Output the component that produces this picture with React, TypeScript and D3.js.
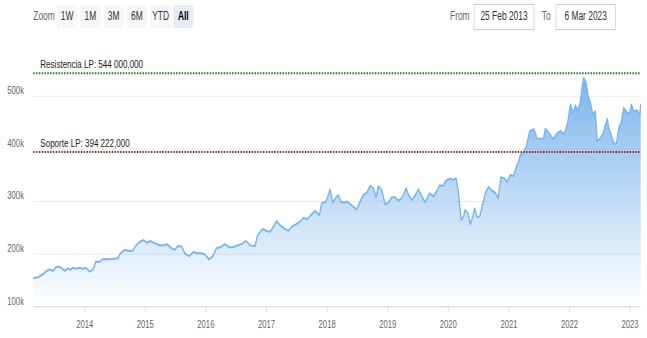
import React from "react";
import * as d3 from "d3";

// ---- data ----
const dates: string[] = [
  "2013-02-25","2013-03-25","2013-04-24","2013-05-15","2013-06-04","2013-06-23","2013-07-14","2013-08-07","2013-09-02","2013-09-22",
  "2013-10-06","2013-10-22","2013-11-11","2013-12-01","2013-12-21","2014-01-07","2014-01-31","2014-02-20","2014-03-08","2014-04-01",
  "2014-04-21","2014-05-21","2014-06-20","2014-07-20","2014-08-04","2014-08-30","2014-09-29","2014-10-19","2014-11-08","2014-11-28",
  "2014-12-22","2015-01-11","2015-02-01","2015-02-27","2015-03-29","2015-04-28","2015-05-12","2015-06-08","2015-06-28","2015-07-14",
  "2015-08-07","2015-08-27","2015-09-22","2015-10-20","2015-11-05","2015-11-25","2015-12-25","2016-01-20","2016-02-10","2016-03-05",
  "2016-04-04","2016-04-24","2016-05-20","2016-06-13","2016-07-14","2016-08-04","2016-08-30","2016-09-23","2016-10-23","2016-11-08",
  "2016-12-08","2017-01-02","2017-01-22","2017-02-11","2017-03-03","2017-03-23","2017-04-16","2017-05-12","2017-06-02","2017-06-28",
  "2017-07-22","2017-08-11","2017-09-04","2017-09-24","2017-10-20","2017-11-15","2017-11-29","2017-12-25","2018-01-08","2018-01-19",
  "2018-02-04","2018-02-24","2018-03-10","2018-03-24","2018-04-13","2018-05-03","2018-05-23","2018-06-08","2018-06-28","2018-07-18",
  "2018-08-07","2018-08-28","2018-09-17","2018-10-07","2018-10-23","2018-11-06","2018-11-26","2018-12-16","2019-01-05","2019-01-26",
  "2019-02-15","2019-03-07","2019-03-28","2019-04-23","2019-05-07","2019-05-27","2019-06-16","2019-07-06","2019-07-26","2019-08-15",
  "2019-09-10","2019-10-04","2019-10-24","2019-11-09","2019-11-29","2019-12-19","2020-01-12","2020-01-29","2020-02-18","2020-03-03",
  "2020-03-19","2020-04-02","2020-04-12","2020-04-26","2020-05-13","2020-05-29","2020-06-08","2020-06-22","2020-07-08","2020-07-23",
  "2020-08-11","2020-08-31","2020-09-21","2020-10-11","2020-10-27","2020-11-14","2020-12-04","2020-12-20","2021-01-09","2021-01-29",
  "2021-02-14","2021-02-28","2021-03-10","2021-03-30","2021-04-16","2021-05-06","2021-05-30","2021-06-19","2021-07-09","2021-07-29",
  "2021-08-08","2021-08-28","2021-09-24","2021-10-18","2021-11-07","2021-11-27","2021-12-07","2021-12-21","2022-01-07","2022-01-23",
  "2022-02-06","2022-02-20","2022-03-08","2022-03-18","2022-03-28","2022-04-11","2022-04-23","2022-05-07","2022-05-21","2022-06-05",
  "2022-06-17","2022-07-06","2022-07-23","2022-08-06","2022-08-16","2022-08-26","2022-09-09","2022-09-25","2022-10-11","2022-10-25",
  "2022-11-08","2022-11-24","2022-12-14","2022-12-30","2023-01-09","2023-01-23","2023-02-13","2023-02-27","2023-03-06",
];

const values: number[] = [
  154000,156000,161600,168000,171000,168000,176000,175000,168000,173000,
  170000,174000,172000,174000,172000,174000,166500,171000,185500,185500,
  190700,190000,190700,192000,201500,208000,206000,207000,217000,223600,
  226800,221700,225000,220500,217000,217000,219000,211000,208000,215000,
  215000,201500,196000,204500,201500,202000,199600,190000,195000,211000,
  214000,219000,213000,213000,217000,219000,225000,217000,215000,236000,
  247700,244000,242600,252000,263000,255000,249000,244500,252000,256700,
  261600,269000,266000,274000,282500,274000,296600,299600,312000,323000,
  297700,308000,312000,299600,297700,300000,294700,290000,285000,299600,
  312000,316700,330000,325000,308000,329500,322000,294700,297700,308000,
  308000,301500,307000,325000,312000,303000,312000,323000,309000,298500,
  315600,310000,320000,331000,329500,339500,344000,341000,344000,315600,
  264800,271000,284000,279000,257000,272600,287000,271000,271000,290000,
  315600,328000,320500,316700,306000,346000,344000,337600,350400,348500,
  366000,375700,388400,393000,405700,433000,437700,420500,418600,420500,
  438000,431400,418600,430000,434300,428000,434300,450000,484600,468600,
  482500,471700,490500,519000,535000,525500,500000,487600,465300,471700,
  414400,420500,430000,446000,456900,439700,427000,409700,411000,439700,
  449500,478000,468600,468600,484600,471700,473600,462000,484600,
];

const yTicks: number[] = [100000, 200000, 300000, 400000, 500000];
const xTickYears: number[] = [2014, 2015, 2016, 2017, 2018, 2019, 2020, 2021, 2022, 2023];
const rangeButtons: string[] = ["1W", "1M", "3M", "6M", "YTD", "All"];
const selectedButton = "All";
const plotLineValues: number[] = [544000, 394222];
const plotLineLabels: string[] = ["Resistencia LP: 544 000,000", "Soporte LP: 394 222,000"];
const plotLineColors: string[] = ["#1d6e1d", "#9a1a1a"];
const fromLabel = "From";
const toLabel = "To";
const fromDate = "25 Feb 2013";
const toDate = "6 Mar 2023";
const domainStart = "2013-02-25";
const domainEnd = "2023-03-06";

// ---- layout ----
const W = 647;
const H = 338;
const SX = 0.7; // horizontal compression of the original rendering
const VW = W / SX;
const plotLeft = 47.6;
const plotRight = 915.3;
const FONT = "'Liberation Sans', Arial, sans-serif";

export default function App() {
  const parse = d3.timeParse("%Y-%m-%d");
  const data = dates.map((d, i) => ({ date: parse(d) as Date, value: values[i] }));

  const x = d3
    .scaleTime()
    .domain([parse(domainStart) as Date, parse(domainEnd) as Date])
    .range([plotLeft, plotRight]);
  const y = d3.scaleLinear().domain([100000, 500000]).range([306.7, 96.3]);
  const plotBottom = y(100000);

  const area = d3
    .area<{ date: Date; value: number }>()
    .x((d) => x(d.date))
    .y0(plotBottom)
    .y1((d) => y(d.value));
  const line = d3
    .line<{ date: Date; value: number }>()
    .x((d) => x(d.date))
    .y((d) => y(d.value));

  const fmtK = (v: number) => `${v / 1000}k`;

  const btnX0 = 81.4;
  const btnStep = 33.2;
  const btnW = 29;

  return (
    <svg
      width={W}
      height={H}
      viewBox={`0 0 ${VW} ${H}`}
      preserveAspectRatio="none"
      style={{ position: "absolute", left: 0, top: 0, display: "block", background: "#fff" }}
      fontFamily={FONT}
    >
      <defs>
        <linearGradient id="areaGrad" x1="0" y1="0" x2="0" y2="1">
          <stop offset="0" stopColor="#7cb5ec" stopOpacity={1} />
          <stop offset="1" stopColor="#7cb5ec" stopOpacity={0} />
        </linearGradient>
      </defs>

      {/* range selector */}
      <text x={47.6} y={20.5} fontSize={12} fill="#666">Zoom</text>
      {rangeButtons.map((b, i) => {
        const bx = btnX0 + i * btnStep + (b === "YTD" ? 0 : 0);
        const w = b === "YTD" ? btnW + 1.5 : btnW;
        const sel = b === selectedButton;
        return (
          <g key={b}>
            <rect x={bx} y={5} width={w} height={23} rx={2} fill={sel ? "#e6ebf5" : "#f7f7f7"} />
            <text
              x={bx + w / 2}
              y={20.5}
              fontSize={12}
              textAnchor="middle"
              fill={sel ? "#000" : "#333"}
              fontWeight={sel ? "bold" : "normal"}
            >
              {b}
            </text>
          </g>
        );
      })}

      {/* date inputs */}
      <text x={642.9} y={20.5} fontSize={12} fill="#666">{fromLabel}</text>
      <rect x={677.1} y={4.5} width={85.7} height={25} fill="#fff" stroke="#cccccc" strokeWidth={1} />
      <text x={720} y={20.5} fontSize={12} textAnchor="middle" fill="#333">{fromDate}</text>
      <text x={773.9} y={20.5} fontSize={12} fill="#666">{toLabel}</text>
      <rect x={794.3} y={4.5} width={84.8} height={25} fill="#fff" stroke="#cccccc" strokeWidth={1} />
      <text x={836.7} y={20.5} fontSize={12} textAnchor="middle" fill="#333">{toDate}</text>

      {/* grid lines */}
      {yTicks.map((t) => (
        <line key={t} x1={plotLeft} x2={plotRight} y1={y(t)} y2={y(t)} stroke="#e6e6e6" strokeWidth={1} />
      ))}

      {/* series */}
      <path d={area(data) || ""} fill="url(#areaGrad)" />
      <path d={line(data) || ""} fill="none" stroke="#7cb5ec" strokeWidth={2} strokeLinejoin="round" />

      {/* plot lines */}
      {plotLineValues.map((v, i) => (
        <g key={v}>
          <line
            x1={plotLeft}
            x2={plotRight}
            y1={y(v)}
            y2={y(v)}
            stroke={plotLineColors[i]}
            strokeWidth={2}
            strokeDasharray="2,2"
          />
          <text x={plotLeft + 10} y={y(v) - 5} fontSize={11.5} fill="#222">
            {plotLineLabels[i]}
          </text>
        </g>
      ))}

      {/* y axis labels */}
      {yTicks.map((t) => (
        <text key={t} x={34.3} y={y(t) - 2} fontSize={11} textAnchor="end" fill="#666">
          {fmtK(t)}
        </text>
      ))}

      {/* x axis */}
      <line x1={plotLeft} x2={plotRight} y1={plotBottom} y2={plotBottom} stroke="#ccd6eb" strokeWidth={1} />
      {xTickYears.map((yr) => {
        const tx = x(new Date(yr, 0, 1));
        return (
          <g key={yr}>
            <line x1={tx} x2={tx} y1={plotBottom} y2={plotBottom + 5} stroke="#ccd6eb" strokeWidth={1} />
            <text x={tx} y={328} fontSize={11} textAnchor="middle" fill="#666">
              {yr}
            </text>
          </g>
        );
      })}
    </svg>
  );
}
